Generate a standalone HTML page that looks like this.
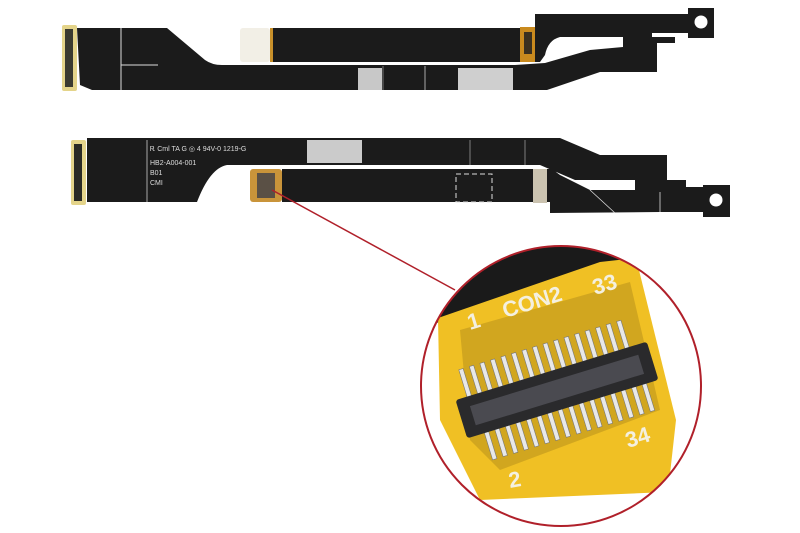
<!DOCTYPE html>
<html><head><meta charset="utf-8"><style>
html,body{margin:0;padding:0;background:#fff;}
svg{display:block;}
</style></head><body>
<svg width="800" height="533" viewBox="0 0 800 533" xmlns="http://www.w3.org/2000/svg">
<rect width="800" height="533" fill="#fff"/>
<defs>
<clipPath id="cc"><circle cx="561" cy="386" r="140"/></clipPath>
</defs>

<!-- TOP CABLE -->
<g fill="#1b1b1b">
<path d="M77,28 L167,28 L205,60 Q212,65 222,65 L515,65 L545,63 L590,50 L623,47 L623,37 L560,37 Q548,40 545,55 L540,62 L272,62 L272,28 L535,28 L535,14 L688,14 L688,8 L714,8 L714,38 L688,38 L688,33 L652,33 L652,37 L675,37 L675,43 L657,43 L657,72 L600,72 L547,90 L92,90 L80,85 Z"/>
</g>
<rect x="240" y="28" width="30" height="34" rx="3" fill="#f2efe6"/>
<rect x="270" y="28" width="3" height="34" fill="#c8902a"/>
<rect x="520" y="27" width="15" height="35" fill="#c98a1e"/>
<rect x="524" y="32" width="8" height="22" fill="#3a3020"/>
<circle cx="701" cy="22" r="6.5" fill="#fff"/>
<rect x="62" y="25" width="15" height="66" fill="#e4d48a" rx="2"/>
<rect x="65" y="29" width="8" height="58" fill="#3a3a30"/>
<line x1="121" y1="28" x2="121" y2="90" stroke="#ddd" stroke-width="1"/>
<line x1="121" y1="65" x2="158" y2="65" stroke="#ddd" stroke-width="1"/>
<rect x="358" y="68" width="24" height="22" fill="#c8c8c8"/>
<rect x="458" y="68" width="55" height="22" fill="#cfcfcf"/>
<line x1="425" y1="66" x2="425" y2="90" stroke="#aaa" stroke-width="1"/>
<line x1="383" y1="66" x2="383" y2="90" stroke="#777" stroke-width="1"/>

<!-- BOTTOM CABLE -->
<g fill="#1b1b1b">
<path d="M87,138 L560,138 L600,155 L667,155 L667,180 L686,180 L686,187 L703,187 L703,185 L730,185 L730,217 L703,217 L703,212 L660,212 L550,213 L550,202 L282,202 L282,169 L552,169 L560,175 L590,190 L635,190 L635,180 L575,180 L540,165 L227,165 Q210,168 197,202 L87,202 Z"/>
</g>
<circle cx="716" cy="200" r="6.5" fill="#fff"/>
<rect x="71" y="140" width="15" height="65" fill="#e4d48a" rx="2"/>
<rect x="74" y="144" width="8" height="57" fill="#2a2a25"/>
<rect x="307" y="140" width="55" height="23" fill="#cbcbcb"/>
<line x1="147" y1="140" x2="147" y2="202" stroke="#ccc" stroke-width="0.8"/>
<line x1="470" y1="140" x2="470" y2="165" stroke="#999" stroke-width="0.8"/>
<line x1="525" y1="140" x2="525" y2="165" stroke="#999" stroke-width="0.8"/>
<line x1="590" y1="190" x2="615" y2="213" stroke="#ddd" stroke-width="0.8"/>
<line x1="660" y1="192" x2="660" y2="212" stroke="#ddd" stroke-width="0.8"/>
<rect x="250" y="169" width="32" height="33" rx="3" fill="#c9943a"/>
<rect x="257" y="173" width="18" height="25" fill="#5a5045"/>
<rect x="533" y="169" width="14" height="34" fill="#cbc3b0"/>
<rect x="456" y="174" width="36" height="28" fill="none" stroke="#ddd" stroke-width="1" stroke-dasharray="5,3"/>
<g font-family="Liberation Sans, sans-serif" font-size="7" fill="#ddd">
<text x="150" y="151">Ꭱ Cml TA G ◎ 4 94V-0 1219-G</text>
<text x="150" y="165">HB2-A004-001</text>
<text x="150" y="175">B01</text>
<text x="150" y="185">CMI</text>
</g>

<!-- red pointer -->
<line x1="272" y1="190" x2="455" y2="290" stroke="#b0202a" stroke-width="1.5"/>

<!-- MAGNIFIER -->
<g clip-path="url(#cc)">
<rect x="400" y="230" width="320" height="320" fill="#fff"/>
<polygon points="410,240 640,240 630,262 430,325 410,335" fill="#1a1a1a"/>
<path d="M438,318 L600,262 L636,258 L676,420 L668,492 L480,500 L440,420 Z" fill="#f0c024"/>
<path d="M460,330 L630,282 L660,410 L500,470 L470,440 Z" fill="#b8901c" opacity="0.55"/>
<g transform="translate(557,390) rotate(-17)">
<g fill="#e8e8e8" stroke="#777" stroke-width="0.6">
<rect x="-88" y="-48" width="4.5" height="30"/><rect x="-77" y="-48" width="4.5" height="30"/><rect x="-66" y="-48" width="4.5" height="30"/><rect x="-55" y="-48" width="4.5" height="30"/><rect x="-44" y="-48" width="4.5" height="30"/><rect x="-33" y="-48" width="4.5" height="30"/><rect x="-22" y="-48" width="4.5" height="30"/><rect x="-11" y="-48" width="4.5" height="30"/><rect x="0" y="-48" width="4.5" height="30"/><rect x="11" y="-48" width="4.5" height="30"/><rect x="22" y="-48" width="4.5" height="30"/><rect x="33" y="-48" width="4.5" height="30"/><rect x="44" y="-48" width="4.5" height="30"/><rect x="55" y="-48" width="4.5" height="30"/><rect x="66" y="-48" width="4.5" height="30"/><rect x="77" y="-48" width="4.5" height="30"/>
<rect x="-82" y="18" width="4.5" height="30"/><rect x="-71" y="18" width="4.5" height="30"/><rect x="-60" y="18" width="4.5" height="30"/><rect x="-49" y="18" width="4.5" height="30"/><rect x="-38" y="18" width="4.5" height="30"/><rect x="-27" y="18" width="4.5" height="30"/><rect x="-16" y="18" width="4.5" height="30"/><rect x="-5" y="18" width="4.5" height="30"/><rect x="6" y="18" width="4.5" height="30"/><rect x="17" y="18" width="4.5" height="30"/><rect x="28" y="18" width="4.5" height="30"/><rect x="39" y="18" width="4.5" height="30"/><rect x="50" y="18" width="4.5" height="30"/><rect x="61" y="18" width="4.5" height="30"/><rect x="72" y="18" width="4.5" height="30"/><rect x="83" y="18" width="4.5" height="30"/>
</g>
<rect x="-100" y="-20" width="200" height="40" rx="3" fill="#2a2a2c"/>
<rect x="-88" y="-10" width="176" height="20" fill="#4a4a50"/>
</g>
<g font-family="Liberation Sans, sans-serif" fill="#f4f0e0" font-size="22" font-weight="bold">
<text x="470" y="330" transform="rotate(-17 470 330)">1</text>
<text x="505" y="318" transform="rotate(-17 505 318)">CON2</text>
<text x="595" y="295" transform="rotate(-17 595 295)">33</text>
<text x="628" y="448" transform="rotate(-17 628 448)">34</text>
<text x="510" y="488" transform="rotate(-10 510 488)">2</text>
</g>
</g>
<circle cx="561" cy="386" r="140" fill="none" stroke="#b0202a" stroke-width="2"/>
</svg>
</body></html>
